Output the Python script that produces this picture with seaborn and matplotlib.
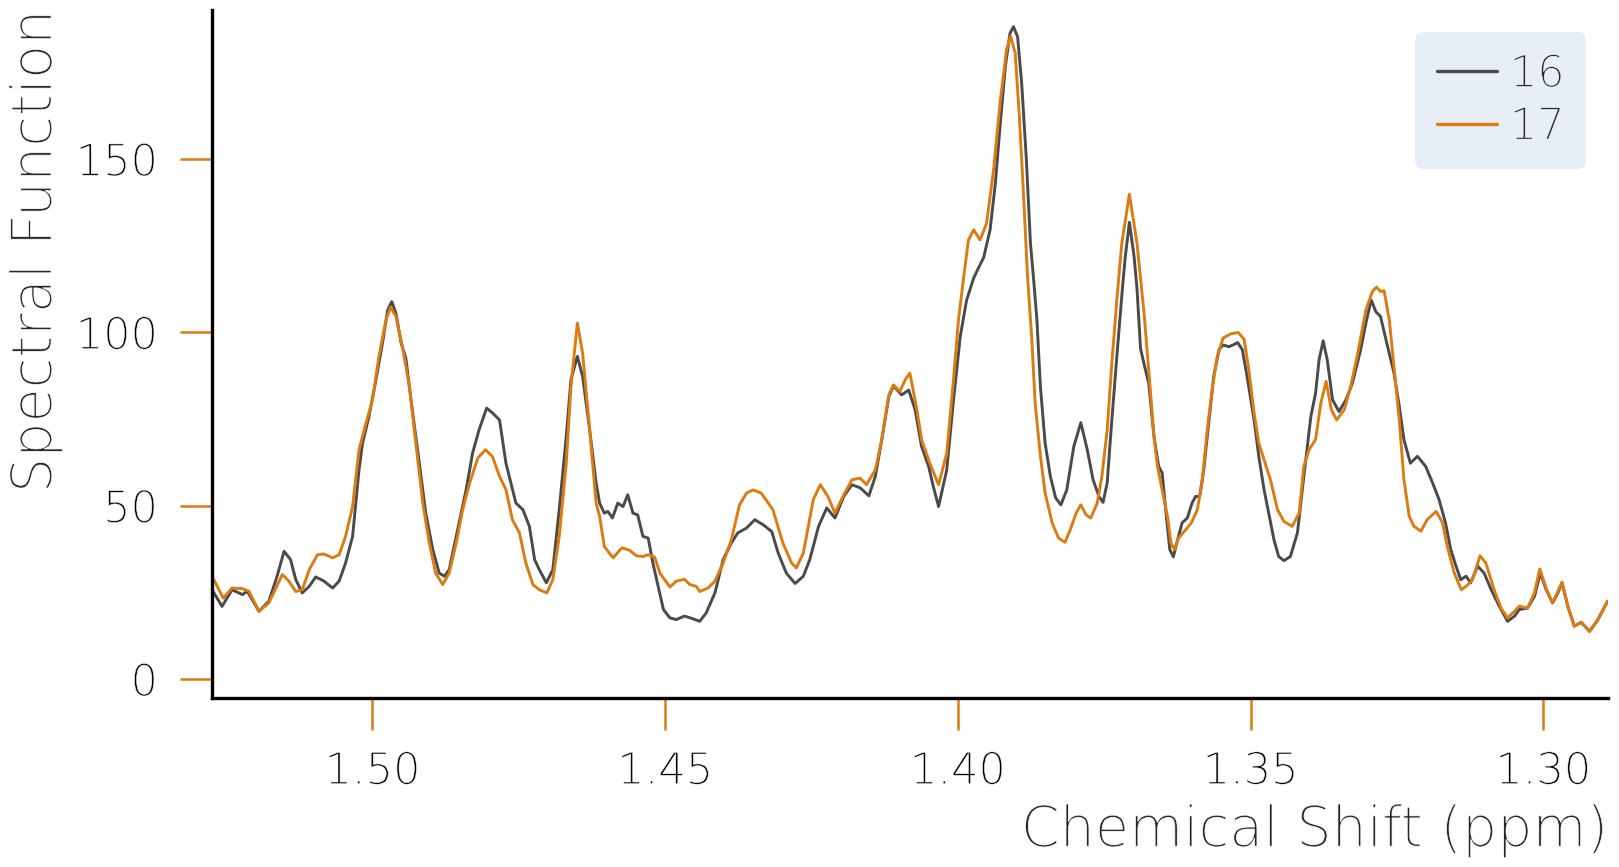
import matplotlib
matplotlib.use("Agg")
import matplotlib.pyplot as plt
import matplotlib.patheffects as pe
import seaborn as sns
import pandas as pd

# values
ppm_16 = [
    1.5274, 1.5257, 1.5240, 1.5222, 1.5214, 1.5194, 1.5177, 1.5163, 1.5151, 1.5140,
    1.5131, 1.5120, 1.5108, 1.5097, 1.5083, 1.5068, 1.5057, 1.5046, 1.5034, 1.5023,
    1.5017, 1.5006, 1.4994, 1.4983, 1.4974, 1.4967, 1.4960, 1.4951, 1.4943, 1.4932,
    1.4920, 1.4909, 1.4897, 1.4886, 1.4877, 1.4869, 1.4857, 1.4840, 1.4829, 1.4818,
    1.4805, 1.4795, 1.4783, 1.4772, 1.4755, 1.4743, 1.4732, 1.4723, 1.4715, 1.4703,
    1.4692, 1.4681, 1.4669, 1.4661, 1.4650, 1.4641, 1.4629, 1.4618, 1.4612, 1.4604,
    1.4598, 1.4590, 1.4581, 1.4572, 1.4564, 1.4555, 1.4547, 1.4538, 1.4529, 1.4521,
    1.4512, 1.4503, 1.4492, 1.4481, 1.4467, 1.4452, 1.4441, 1.4430, 1.4415, 1.4401,
    1.4387, 1.4376, 1.4361, 1.4347, 1.4333, 1.4318, 1.4307, 1.4293, 1.4278, 1.4264,
    1.4253, 1.4238, 1.4224, 1.4210, 1.4195, 1.4181, 1.4167, 1.4152, 1.4141, 1.4130,
    1.4118, 1.4110, 1.4096, 1.4084, 1.4073, 1.4062, 1.4050, 1.4042, 1.4033, 1.4019,
    1.4008, 1.3996, 1.3985, 1.3973, 1.3962, 1.3956, 1.3945, 1.3936, 1.3928, 1.3919,
    1.3911, 1.3905, 1.3898, 1.3891, 1.3883, 1.3876, 1.3871, 1.3865, 1.3859, 1.3851,
    1.3842, 1.3833, 1.3824, 1.3814, 1.3802, 1.3790, 1.3779, 1.3769, 1.3759, 1.3752,
    1.3745, 1.3737, 1.3728, 1.3719, 1.3714, 1.3707, 1.3699, 1.3694, 1.3688, 1.3681,
    1.3674, 1.3665, 1.3657, 1.3651, 1.3645, 1.3638, 1.3632, 1.3626, 1.3617, 1.3608,
    1.3600, 1.3594, 1.3587, 1.3580, 1.3571, 1.3563, 1.3554, 1.3547, 1.3537, 1.3530,
    1.3522, 1.3514, 1.3506, 1.3494, 1.3486, 1.3477, 1.3469, 1.3460, 1.3452, 1.3443,
    1.3432, 1.3420, 1.3409, 1.3397, 1.3389, 1.3383, 1.3376, 1.3369, 1.3360, 1.3349,
    1.3337, 1.3326, 1.3312, 1.3303, 1.3294, 1.3286, 1.3278, 1.3266, 1.3255, 1.3246,
    1.3238, 1.3227, 1.3215, 1.3201, 1.3189, 1.3178, 1.3167, 1.3158, 1.3149, 1.3141,
    1.3132, 1.3124, 1.3112, 1.3101, 1.3089, 1.3075, 1.3061, 1.3049, 1.3041, 1.3027,
    1.3015, 1.3005, 1.2995, 1.2984, 1.2975, 1.2968, 1.2958, 1.2947, 1.2935, 1.2921,
    1.2907, 1.2890,
]
spec_16 = [
    25.7, 20.9, 25.7, 24.3, 25.3, 19.5, 22.4, 29.6, 36.8, 34.4,
    28.6, 24.8, 26.7, 29.4, 28.2, 26.2, 28.2, 33.4, 41.1, 60.3,
    68.0, 75.7, 86.3, 96.8, 106.4, 108.8, 105.5, 96.8, 92.5, 77.6,
    62.2, 47.8, 37.3, 30.5, 29.6, 31.5, 41.1, 54.6, 65.1, 71.8,
    78.1, 76.7, 74.7, 62.2, 50.7, 48.8, 44.0, 34.4, 31.5, 27.7,
    31.5, 48.8, 69.9, 86.3, 93.0, 87.2, 71.8, 56.5, 50.7, 47.8,
    48.3, 46.4, 50.7, 49.7, 53.1, 47.8, 47.3, 41.1, 40.6, 33.4,
    26.7, 20.0, 17.6, 17.1, 18.1, 17.3, 16.6, 19.0, 24.8, 34.4,
    39.2, 42.1, 43.5, 45.9, 44.5, 42.5, 36.3, 30.5, 27.5, 29.6,
    34.4, 44.0, 49.3, 46.4, 52.6, 56.0, 55.1, 52.8, 58.4, 69.0,
    81.4, 84.5, 81.9, 83.3, 77.6, 67.0, 61.3, 55.5, 49.7, 60.3,
    79.5, 98.7, 109.3, 115.6, 119.5, 121.5, 129.5, 142.9, 159.3, 176.5,
    186.2, 188.1, 185.2, 171.8, 149.7, 125.6, 116.0, 103.5, 84.3, 68.0,
    58.4, 52.2, 50.2, 54.5, 67.0, 73.9, 66.1, 57.4, 52.6, 50.9,
    56.5, 74.7, 93.9, 112.5, 121.8, 131.7, 121.8, 112.5, 95.3, 90.1,
    85.3, 69.9, 61.3, 59.4, 48.8, 37.3, 35.2, 39.2, 45.0, 46.4,
    50.7, 52.6, 52.6, 60.3, 74.7, 87.2, 94.9, 96.3, 95.8, 96.3,
    97.0, 94.9, 87.2, 74.7, 64.2, 54.6, 47.8, 40.1, 35.3, 34.1,
    35.3, 42.1, 58.4, 75.7, 82.4, 92.0, 97.5, 92.0, 80.5, 77.1,
    80.5, 85.3, 94.9, 102.6, 109.3, 105.9, 104.5, 95.9, 88.2, 78.6,
    69.0, 62.2, 64.2, 61.3, 56.5, 51.7, 45.0, 37.3, 32.5, 28.6,
    29.6, 27.7, 32.5, 30.5, 25.7, 20.9, 16.6, 18.1, 20.0, 20.4,
    23.8, 30.5, 25.7, 21.9, 24.8, 27.7, 20.9, 15.2, 16.3, 13.7,
    17.0, 22.4,
]

ppm_17 = [
    1.5274, 1.5255, 1.5240, 1.5222, 1.5211, 1.5194, 1.5177, 1.5154, 1.5143, 1.5131,
    1.5120, 1.5108, 1.5094, 1.5083, 1.5068, 1.5057, 1.5046, 1.5034, 1.5023, 1.5011,
    1.5000, 1.4989, 1.4977, 1.4969, 1.4960, 1.4949, 1.4937, 1.4926, 1.4914, 1.4903,
    1.4892, 1.4880, 1.4869, 1.4857, 1.4846, 1.4834, 1.4820, 1.4807, 1.4795, 1.4783,
    1.4772, 1.4761, 1.4749, 1.4738, 1.4726, 1.4715, 1.4702, 1.4692, 1.4681, 1.4669,
    1.4661, 1.4650, 1.4641, 1.4629, 1.4618, 1.4612, 1.4604, 1.4589, 1.4574, 1.4561,
    1.4549, 1.4538, 1.4529, 1.4518, 1.4509, 1.4492, 1.4481, 1.4467, 1.4458, 1.4447,
    1.4441, 1.4427, 1.4415, 1.4401, 1.4387, 1.4373, 1.4361, 1.4350, 1.4336, 1.4316,
    1.4299, 1.4284, 1.4276, 1.4264, 1.4247, 1.4235, 1.4222, 1.4210, 1.4195, 1.4181,
    1.4167, 1.4156, 1.4141, 1.4130, 1.4118, 1.4110, 1.4099, 1.4090, 1.4082, 1.4070,
    1.4062, 1.4048, 1.4033, 1.4019, 1.4008, 1.3999, 1.3990, 1.3982, 1.3973, 1.3962,
    1.3951, 1.3939, 1.3928, 1.3917, 1.3910, 1.3902, 1.3895, 1.3888, 1.3881, 1.3874,
    1.3868, 1.3859, 1.3851, 1.3839, 1.3828, 1.3817, 1.3808, 1.3798, 1.3790, 1.3781,
    1.3773, 1.3762, 1.3754, 1.3745, 1.3737, 1.3728, 1.3720, 1.3707, 1.3694, 1.3682,
    1.3674, 1.3665, 1.3659, 1.3651, 1.3642, 1.3636, 1.3630, 1.3623, 1.3611, 1.3601,
    1.3591, 1.3583, 1.3574, 1.3565, 1.3557, 1.3547, 1.3534, 1.3521, 1.3511, 1.3503,
    1.3494, 1.3486, 1.3477, 1.3466, 1.3454, 1.3443, 1.3429, 1.3417, 1.3409, 1.3400,
    1.3389, 1.3380, 1.3371, 1.3362, 1.3353, 1.3340, 1.3329, 1.3318, 1.3303, 1.3292,
    1.3285, 1.3278, 1.3272, 1.3263, 1.3255, 1.3246, 1.3238, 1.3229, 1.3221, 1.3209,
    1.3198, 1.3183, 1.3172, 1.3164, 1.3152, 1.3140, 1.3129, 1.3121, 1.3108, 1.3098,
    1.3084, 1.3072, 1.3061, 1.3049, 1.3041, 1.3027, 1.3015, 1.3006, 1.2995, 1.2984,
    1.2968, 1.2958, 1.2947, 1.2935, 1.2921, 1.2907, 1.2890,
]
spec_17 = [
    29.6, 23.3, 26.2, 26.0, 25.3, 19.5, 21.9, 30.1, 28.2, 25.2,
    25.7, 31.5, 35.8, 36.0, 34.9, 35.8, 41.1, 49.7, 66.1, 73.8,
    80.5, 93.0, 103.5, 107.2, 104.5, 95.9, 84.3, 68.0, 50.7, 39.2,
    30.5, 27.2, 30.5, 39.2, 48.8, 56.5, 63.7, 66.1, 64.1, 58.4,
    54.6, 45.9, 42.1, 33.4, 27.2, 25.7, 24.8, 28.6, 41.1, 62.2,
    84.3, 102.6, 93.9, 71.8, 50.7, 46.9, 38.2, 34.9, 37.8, 37.1,
    35.5, 35.3, 35.8, 35.1, 30.5, 26.5, 28.2, 28.7, 27.2, 26.7,
    25.2, 26.2, 28.2, 33.4, 40.1, 50.2, 53.6, 54.5, 53.6, 48.8,
    39.2, 33.4, 32.0, 36.3, 51.7, 56.0, 52.6, 47.8, 53.1, 57.4,
    57.9, 56.0, 60.3, 69.0, 81.9, 84.8, 82.9, 86.3, 88.2, 77.6,
    69.0, 62.2, 56.0, 65.1, 85.3, 103.5, 116.0, 126.6, 129.5, 126.6,
    131.4, 146.8, 166.0, 181.4, 185.4, 180.4, 162.2, 140.0, 116.0, 98.7,
    79.5, 64.2, 53.6, 45.0, 40.6, 39.4, 43.0, 47.8, 50.2, 47.3,
    46.4, 50.7, 58.4, 71.8, 91.1, 110.3, 125.6, 139.8, 125.6, 105.5,
    89.1, 69.9, 61.3, 54.6, 46.9, 39.2, 37.3, 40.6, 43.0, 45.0,
    48.8, 56.5, 71.8, 84.3, 93.0, 98.3, 99.5, 99.9, 97.9, 89.1,
    76.7, 68.0, 63.2, 57.4, 48.8, 45.4, 44.0, 47.8, 61.3, 66.1,
    69.0, 79.5, 85.8, 77.6, 74.7, 77.6, 84.3, 93.0, 106.4, 111.7,
    113.0, 111.7, 112.0, 103.5, 90.1, 74.7, 57.4, 46.9, 44.0, 42.6,
    46.0, 48.3, 45.0, 38.2, 30.5, 25.7, 27.1, 28.6, 35.5, 33.4,
    25.7, 20.4, 17.6, 19.5, 21.0, 20.4, 24.8, 31.7, 26.1, 21.9,
    27.9, 20.9, 15.2, 16.3, 13.7, 17.0, 22.4,
]

series_names = ["16", "17"]
x_ticks = [1.50, 1.45, 1.40, 1.35, 1.30]
y_ticks = [0, 50, 100, 150]

line_colors = {"16": "#4a4a4a", "17": "#dc7b12"}
tick_color = "#dc7b12"

df = pd.concat([
    pd.DataFrame({"ppm": ppm_16, "spectral": spec_16, "series": series_names[0]}),
    pd.DataFrame({"ppm": ppm_17, "spectral": spec_17, "series": series_names[1]}),
])

sns.set_theme(style="ticks")
plt.rcParams["font.family"] = ["DejaVu Sans"]
plt.rcParams["font.weight"] = 200

# thin the glyph strokes a little (the reference uses a very light weight)
thin_small = [pe.Stroke(linewidth=0.4, foreground="white")]
thin_big = [pe.Stroke(linewidth=0.55, foreground="white")]

fig = plt.figure(figsize=(16.19, 8.67), dpi=100)
ax = fig.add_axes([0.131, 0.195, 0.862, 0.793])

sns.lineplot(data=df, x="ppm", y="spectral", hue="series", palette=line_colors,
             estimator=None, linewidth=2.1, ax=ax)
for ln in ax.get_lines():
    ln.set_solid_joinstyle("round")

ax.set_xlim(max(ppm_16), min(ppm_16))
ax.set_ylim(-5.5, 192.8)
ax.set_xticks(x_ticks)
ax.set_xticklabels([f"{t:.2f}" for t in x_ticks])
ax.set_yticks(y_ticks)

sns.despine(ax=ax)
for side in ["left", "bottom"]:
    ax.spines[side].set_color("black")
    ax.spines[side].set_linewidth(2.4)

ax.tick_params(axis="both", which="major", direction="out", length=23, width=1.8,
               color=tick_color, labelsize=31, labelcolor="black",
               bottom=True, left=True)
ax.tick_params(axis="x", pad=15)
ax.tick_params(axis="y", pad=16)
for lbl in ax.get_xticklabels() + ax.get_yticklabels():
    lbl.set_fontweight(200)
    lbl.set_path_effects(thin_small)

ax.set_xlabel("Chemical Shift (ppm)", fontsize=40, fontweight=200, loc="right",
              labelpad=9, path_effects=thin_big)
ax.set_ylabel("Spectral Function", fontsize=40, fontweight=200, loc="top",
              labelpad=9, path_effects=thin_big)

leg = ax.legend(loc="upper right", fontsize=31, frameon=True, fancybox=True,
                facecolor="#e8eef8", edgecolor="none", framealpha=1,
                handlelength=1.4, handletextpad=0.3, labelspacing=0.27,
                borderpad=0.5, borderaxespad=0.5)
for txt in leg.get_texts():
    txt.set_fontweight(200)
    txt.set_path_effects(thin_small)
for line in leg.get_lines():
    line.set_linewidth(2.4)

fig.savefig("out.png", dpi=100)
